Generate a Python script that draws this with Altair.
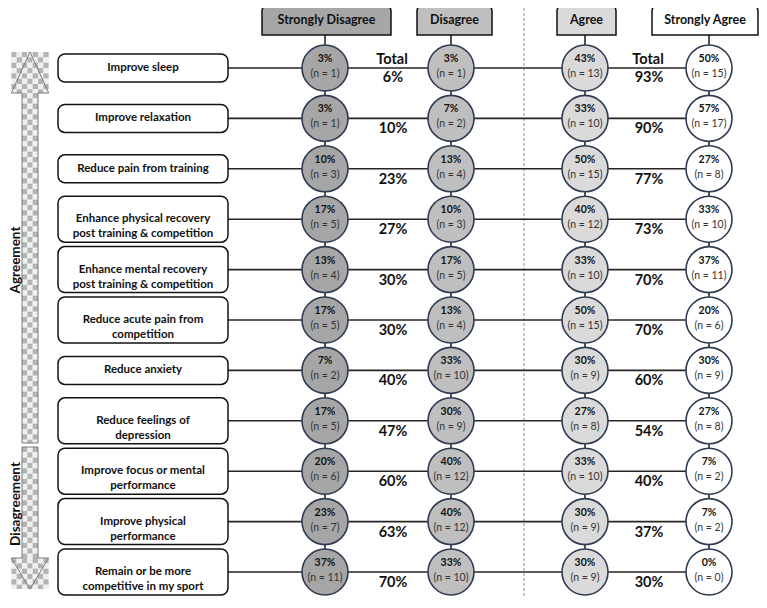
import altair as alt
import pandas as pd
import numpy as np

# ---------------- data ----------------
statements = [
    "Improve sleep",
    "Improve relaxation",
    "Reduce pain from training",
    "Enhance physical recovery\npost training & competition",
    "Enhance mental recovery\npost training & competition",
    "Reduce acute pain from\ncompetition",
    "Reduce anxiety",
    "Reduce feelings of\ndepression",
    "Improve focus or mental\nperformance",
    "Improve physical\nperformance",
    "Remain or be more\ncompetitive in my sport",
]
categories = ["Strongly Disagree", "Disagree", "Agree", "Strongly Agree"]
sd_pct = [3, 3, 10, 17, 13, 17, 7, 17, 20, 23, 37]
sd_n = [1, 1, 3, 5, 4, 5, 2, 5, 6, 7, 11]
d_pct = [3, 7, 13, 10, 17, 13, 33, 30, 40, 40, 33]
d_n = [1, 2, 4, 3, 5, 4, 10, 9, 12, 12, 10]
a_pct = [43, 33, 50, 40, 33, 50, 30, 27, 33, 30, 30]
a_n = [13, 10, 15, 12, 10, 15, 9, 8, 10, 9, 9]
sa_pct = [50, 57, 27, 33, 37, 20, 30, 27, 7, 7, 0]
sa_n = [15, 17, 8, 10, 11, 6, 9, 8, 2, 2, 0]
total_disagree = [6, 10, 23, 27, 30, 30, 40, 47, 60, 63, 70]
total_agree = [93, 90, 77, 73, 70, 70, 60, 54, 40, 37, 30]

# ---------------- layout (screen pixel coordinates) ----------------
W, H = 751, 590
FONT = "Lato"
ROW_Y0, ROW_STEP = 68, 50.4
COL_X = {"Strongly Disagree": 325, "Disagree": 451, "Agree": 585, "Strongly Agree": 709}
HEAD_X = {"Strongly Disagree": (262, 391), "Disagree": (417, 492),
          "Agree": (557, 616), "Strongly Agree": (652, 758)}
FILLS = ["#a6a6a6", "#bfbfbf", "#dadada", "#ffffff"]
LBOX_X1, LBOX_X2 = 58, 228
CIRCLE_STROKE = "#2f3b52"

def row_y(i):
    return ROW_Y0 + ROW_STEP * i

xs = alt.Scale(domain=[8, 8 + W], nice=False, zero=False)
ys = alt.Scale(domain=[8, 8 + H], nice=False, zero=False, reverse=True)

def X(f="x"):
    return alt.X(f"{f}:Q", scale=xs, axis=None)

def Y(f="y"):
    return alt.Y(f"{f}:Q", scale=ys, axis=None, stack=None)

color = alt.Color("category:N", scale=alt.Scale(domain=categories, range=FILLS), legend=None)

# circles
pcts = [sd_pct, d_pct, a_pct, sa_pct]
ns = [sd_n, d_n, a_n, sa_n]
crows = []
for ci, cat in enumerate(categories):
    for i in range(len(statements)):
        crows.append({"category": cat, "x": COL_X[cat], "y": row_y(i),
                      "pct": f"{pcts[ci][i]}%", "n": f"(n = {ns[ci][i]})"})
cdf = pd.DataFrame(crows)
cdf["y_p"] = cdf["y"] - 9
cdf["y_n"] = cdf["y"] + 6

# label boxes
ldf = pd.DataFrame({"label": statements, "y": [row_y(i) for i in range(len(statements))]})
ldf["lines"] = ldf["label"].str.count("\n") + 1
ldf["half"] = np.where(ldf["lines"] > 1, 23, 14)
ldf["y1"] = ldf["y"] - ldf["half"]
ldf["y2"] = ldf["y"] + ldf["half"]
ldf["x1"] = LBOX_X1
ldf["x2"] = LBOX_X2
ldf["xc"] = (LBOX_X1 + LBOX_X2) / 2
ldf["xr"] = COL_X["Strongly Agree"]

# headers
hdf = pd.DataFrame({"category": categories})
hdf["x1"] = [HEAD_X[c][0] for c in categories]
hdf["x2"] = [HEAD_X[c][1] for c in categories]
hdf["xc"] = (hdf["x1"] + hdf["x2"]) / 2
hdf["y1"] = 5
hdf["y2"] = 35
hdf["yc"] = 20
hdf["xcol"] = [COL_X[c] for c in categories]
hdf["ybot"] = row_y(len(statements) - 1)

# totals
tdf = pd.DataFrame({
    "y": [row_y(i) + 11 for i in range(len(statements))],
    "left": [f"{v}%" for v in total_disagree],
    "right": [f"{v}%" for v in total_agree],
})
tdf.loc[0, "y"] = row_y(0) + 10
tdf["xl"] = 393
tdf["xr"] = 649
thead = pd.DataFrame({"x": [392, 648], "y": [row_y(0) - 8] * 2, "t": ["Total", "Total"]})

# ---------------- arrow decoration ----------------
s = 16 / 3.0
ax0 = 22
cells = []
def add_cells(ytop, ybot, kmin, kmax):
    j = 0
    yy = ytop
    while yy < ybot - 0.01:
        y2 = min(yy + s, ybot)
        for k in range(kmin, kmax + 1):
            cells.append({"x": ax0 + k * s, "x2": ax0 + (k + 1) * s, "y": yy, "y2": y2,
                          "c": "d" if (k + j) % 2 == 0 else "l"})
        yy += s
        j += 1
TIP_T, BASE_T, SPLIT_A, SPLIT_B, BASE_B, TIP_B = 52, 93, 443, 447, 558, 589
add_cells(TIP_T, BASE_T, -2, 4)
add_cells(BASE_T, SPLIT_A, 0, 2)
add_cells(SPLIT_B, BASE_B, 0, 2)
add_cells(BASE_B, TIP_B, -2, 4)
celldf = pd.DataFrame(cells)
HX1, HX2 = ax0 - 2 * s, ax0 + 5 * s
TX = (HX1 + HX2) / 2
maskdf = pd.DataFrame([
    {"g": "a", "x": HX1 - 1, "y": TIP_T - 1, "y2": BASE_T},
    {"g": "a", "x": TX, "y": TIP_T - 1, "y2": TIP_T},
    {"g": "b", "x": TX, "y": TIP_T - 1, "y2": TIP_T},
    {"g": "b", "x": HX2 + 1, "y": TIP_T - 1, "y2": BASE_T},
    {"g": "c", "x": HX1 - 1, "y": TIP_B + 1, "y2": BASE_B},
    {"g": "c", "x": TX, "y": TIP_B + 1, "y2": TIP_B},
    {"g": "d", "x": TX, "y": TIP_B + 1, "y2": TIP_B},
    {"g": "d", "x": HX2 + 1, "y": TIP_B + 1, "y2": BASE_B},
])
SX1, SX2 = ax0, ax0 + 3 * s
outline = []
for g, pts in {
    "top": [(SX1, SPLIT_A), (SX1, BASE_T), (HX1, BASE_T), (TX, TIP_T), (HX2, BASE_T),
            (SX2, BASE_T), (SX2, SPLIT_A), (SX1, SPLIT_A)],
    "bot": [(SX1, SPLIT_B), (SX1, BASE_B), (HX1, BASE_B), (TX, TIP_B), (HX2, BASE_B),
            (SX2, BASE_B), (SX2, SPLIT_B), (SX1, SPLIT_B)],
}.items():
    for o, (px, py) in enumerate(pts):
        outline.append({"g": g, "o": o, "x": px, "y": py})
outdf = pd.DataFrame(outline)
sidedf = pd.DataFrame({"x": [15.5, 15.5], "y": [260, 504], "t": ["Agreement", "Disagreement"]})

# ---------------- layers ----------------
checker = alt.Chart(celldf).mark_rect(strokeWidth=0).encode(
    x=X(), x2="x2:Q", y=Y(), y2="y2:Q",
    color=alt.Color("c:N", scale=alt.Scale(domain=["d", "l"], range=["#b4b4b4", "#f0f0f0"]), legend=None))
masks = alt.Chart(maskdf).mark_area(color="white", strokeWidth=0, opacity=1).encode(
    x=X(), y=Y(), y2="y2:Q", detail="g:N", order="x:Q")
arrow_line = alt.Chart(outdf).mark_line(color="#7a7a7a", strokeWidth=1).encode(
    x=X(), y=Y(), detail="g:N", order="o:Q")
side_text = alt.Chart(sidedf).mark_text(angle=270, font=FONT, fontSize=13.5, fontWeight="bold",
                                        baseline="middle", color="#111").encode(
    x=X(), y=Y(), text="t:N")

dashed = alt.Chart(pd.DataFrame({"x": [524], "y": [3], "y2": [606]})).mark_rule(
    color="#8c8c8c", strokeDash=[3, 2], strokeWidth=1).encode(x=X(), y=Y(), y2="y2:Q")

row_rules = alt.Chart(ldf).mark_rule(color="#262626", strokeWidth=1.6).encode(
    x=X("x2"), x2="xr:Q", y=Y())
col_rules = alt.Chart(hdf).mark_rule(color="#262626", strokeWidth=1.6).encode(
    x=X("xcol"), y=Y("y2"), y2="ybot:Q")

head_rect = alt.Chart(hdf).mark_rect(cornerRadiusTopLeft=6, cornerRadiusTopRight=6,
                                     stroke="#111", strokeWidth=1.5).encode(
    x=X("x1"), x2="x2:Q", y=Y("y1"), y2="y2:Q", color=color)
head_text = alt.Chart(hdf).mark_text(font=FONT, fontSize=12.5, fontWeight="bold", color="#111").encode(
    x=X("xc"), y=Y("yc"), text="category:N")

lbox = alt.Chart(ldf).mark_rect(cornerRadius=7, fill="white", stroke="#111", strokeWidth=1.5).encode(
    x=X("x1"), x2="x2:Q", y=Y("y1"), y2="y2:Q")
ltext = alt.Chart(ldf).mark_text(font=FONT, fontSize=11.5, fontWeight="bold", color="#111",
                                 lineBreak="\n", lineHeight=15).encode(
    x=X("xc"), y=Y(), text="label:N")

circles = alt.Chart(cdf).mark_circle(size=2116, opacity=1, stroke=CIRCLE_STROKE, strokeWidth=1.6).encode(
    x=X(), y=Y(), color=color)
ctext_p = alt.Chart(cdf).mark_text(font=FONT, fontSize=10.5, fontWeight="bold", color="#111").encode(
    x=X(), y=Y("y_p"), text="pct:N")
ctext_n = alt.Chart(cdf).mark_text(font=FONT, fontSize=10.5, color="#333").encode(
    x=X(), y=Y("y_n"), text="n:N")

tot_l = alt.Chart(tdf).mark_text(font=FONT, fontSize=14.5, fontWeight="bold", color="#111").encode(
    x=X("xl"), y=Y(), text="left:N")
tot_r = alt.Chart(tdf).mark_text(font=FONT, fontSize=14.5, fontWeight="bold", color="#111").encode(
    x=X("xr"), y=Y(), text="right:N")
tot_h = alt.Chart(thead).mark_text(font=FONT, fontSize=14.5, fontWeight="bold", color="#111").encode(
    x=X(), y=Y(), text="t:N")

chart = alt.layer(
    checker, masks, arrow_line, side_text, dashed, row_rules, col_rules,
    head_rect, head_text, lbox, ltext, circles, ctext_p, ctext_n, tot_l, tot_r, tot_h,
).properties(width=W, height=H, padding=0, autosize="none", background="white").configure_view(
    stroke=None).resolve_scale(color="independent")

chart.save("out.html", embed_options={"renderer": "svg", "actions": False})
